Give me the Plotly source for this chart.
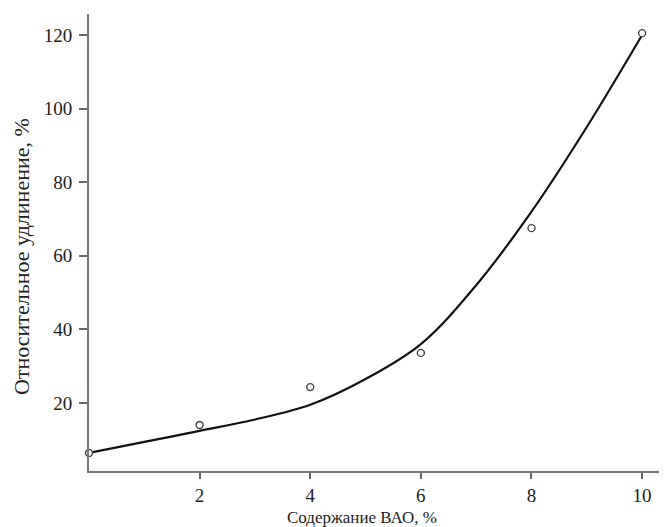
import plotly.graph_objects as go

# measured points
x_pts = [0, 2, 4, 6, 8, 10]
y_pts = [6.4, 14, 24.3, 33.6, 67.5, 120.5]

# fitted curve
x_curve = [0, 1, 2, 3, 4, 5, 6, 7, 8, 9, 10]
y_curve = [6.4, 9.4, 12.4, 15.5, 19.5, 26.5, 36, 52, 72, 95, 120]

x_ticks = [2, 4, 6, 8, 10]
y_ticks = [20, 40, 60, 80, 100, 120]

x_title = "Содержание ВАО, %"
y_title = "Относительное удлинение, %"

# page body adds an 8px margin, so the figure is drawn 8px smaller
W, H = 659, 519
L, T, R, B = 81, 6, 0, 56
pw, ph = W - L - R, H - T - B

fig = go.Figure()
fig.add_trace(go.Scatter(x=x_curve, y=y_curve, mode="lines",
                         line=dict(color="#111111", width=2.2, shape="spline", smoothing=1.0),
                         hoverinfo="skip", cliponaxis=False))
fig.add_trace(go.Scatter(x=x_pts, y=y_pts, mode="markers",
                         marker=dict(symbol="circle", size=7, color="white",
                                     line=dict(color="#444444", width=1.4)),
                         cliponaxis=False))

fam = "Liberation Serif, Times New Roman, serif"
tickfont = dict(family=fam, size=19, color="#222222")
fig.update_layout(
    width=W, height=H,
    margin=dict(l=L, r=R, t=T, b=B),
    paper_bgcolor="white", plot_bgcolor="white",
    showlegend=False,
    font=dict(family=fam, size=16, color="#222222"),
    xaxis=dict(range=[0, 10.45], tickvals=x_ticks, ticks="outside", ticklen=6, tickwidth=1.5,
               tickcolor="#666666", showline=True, linecolor="#777777", linewidth=2,
               showgrid=False, zeroline=False, automargin=False, tickfont=tickfont),
    yaxis=dict(range=[1.5, 125.7], tickvals=y_ticks, ticks="outside", ticklen=8, tickwidth=1.5,
               tickcolor="#666666", showline=True, linecolor="#777777", linewidth=2,
               showgrid=False, zeroline=False, automargin=False, tickfont=tickfont,
               ticklabelstandoff=3),
    annotations=[
        dict(text=x_title, xref="paper", yref="paper", x=(354 - L) / pw, y=-(509 - (H - B)) / ph,
             xanchor="center", yanchor="middle", showarrow=False,
             font=dict(family=fam, size=17, color="#222222")),
        dict(text=y_title, xref="paper", yref="paper", x=-(L - 14) / pw, y=((H - B) - 249) / ph,
             xanchor="center", yanchor="middle", showarrow=False, textangle=-90,
             font=dict(family=fam, size=22, color="#222222")),
    ],
)
fig.write_html("out.html")
